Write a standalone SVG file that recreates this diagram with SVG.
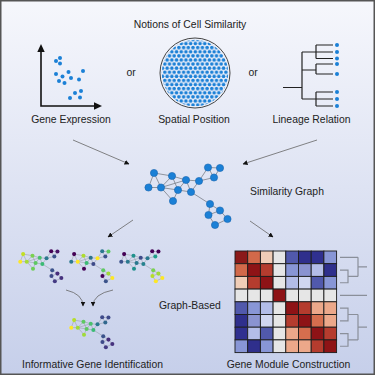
<svg xmlns="http://www.w3.org/2000/svg" xmlns:xlink="http://www.w3.org/1999/xlink" width="375" height="375" viewBox="0 0 375 375">
<style>
text{font-family:"Liberation Sans",Arial,sans-serif;font-size:10.4px;fill:#222}
.mid{text-anchor:middle}
.dot{fill:#1b80d6}
.bn{fill:#1b80d6;stroke:#1765b0;stroke-width:0.6}
.be{fill:none;stroke:#7a7f88;stroke-width:0.8}
.se{fill:none;stroke:#8c909a;stroke-width:0.9}
.tree{fill:none;stroke:#222;stroke-width:1.2}
.conn{fill:none;stroke:#666;stroke-width:0.8}
.dend{fill:none;stroke:#8a8f9a;stroke-width:1.2}
.hm rect{stroke:#1c1c1c;stroke-width:0.9}
</style>
<defs>
<linearGradient id="bg" x1="0" y1="0" x2="0" y2="1">
<stop offset="0" stop-color="#f6f7fc"/>
<stop offset="1" stop-color="#c6cfea"/>
</linearGradient>
<pattern id="cells" patternUnits="userSpaceOnUse" width="4.7" height="8.2" x="0.3" y="0.5">
<circle cx="2.35" cy="2.05" r="1.8" fill="#1b80d6"/>
<circle cx="0" cy="6.15" r="1.8" fill="#1b80d6"/>
<circle cx="4.7" cy="6.15" r="1.8" fill="#1b80d6"/>
</pattern>
<marker id="ah" viewBox="0 0 10 10" refX="9" refY="5" markerWidth="5" markerHeight="5" markerUnits="userSpaceOnUse" orient="auto">
<path d="M0,0 L10,5 L0,10 Z" fill="#111"/>
</marker>
<path id="gedges" d="M154,173 L148.5,187.5 M154,173 L161,187.5 M154,173 L172,176 M148.5,187.5 L161,187.5 M161,187.5 L172,176 M161,187.5 L186,180 M161,187.5 L178,190 M161,187.5 L173,201 M172,176 L186,180 M172,176 L178,190 M178,190 L186,180 M178,190 L191,192 M178,190 L173,201 M186,180 L191,192 M186,180 L199,181 M191,192 L199,181 M199,181 L208,167.5 M199,181 L214,177.5 M208,167.5 L220,168 M208,167.5 L214,177.5 M220,168 L214,177.5 M191,192 L210,204 M210,204 L220,210.5 M210,204 L208.5,215 M208.5,215 L220,210.5 M220,210.5 L227.5,219 M208.5,215 L215,225 M215,225 L227.5,219"/>
</defs>

<rect x="0.75" y="0.75" width="373.5" height="373.5" fill="url(#bg)" stroke="#555" stroke-width="1.5"/>

<g id="title"><text class="mid" x="190" y="27.5">Notions of Cell Similarity</text></g>

<g id="gene-expression">
<path d="M41,51 V106 H96" fill="none" stroke="#111" stroke-width="1.6"/>
<polygon points="41,44 37.3,52 44.7,52" fill="#111"/>
<polygon points="102,106 94,102.3 94,109.7" fill="#111"/>
<circle class="dot" cx="56" cy="61" r="2"/>
<circle class="dot" cx="60" cy="58" r="2"/>
<circle class="dot" cx="60" cy="63.5" r="2"/>
<circle class="dot" cx="56" cy="74" r="2"/>
<circle class="dot" cx="62.5" cy="76.5" r="2"/>
<circle class="dot" cx="68.5" cy="72" r="2"/>
<circle class="dot" cx="71" cy="78" r="2"/>
<circle class="dot" cx="83" cy="71" r="2"/>
<circle class="dot" cx="59" cy="81" r="2"/>
<circle class="dot" cx="64.5" cy="83" r="2"/>
<circle class="dot" cx="79" cy="79.5" r="2"/>
<circle class="dot" cx="75" cy="93" r="2"/>
<circle class="dot" cx="81" cy="91" r="2"/>
<circle class="dot" cx="70" cy="98" r="2"/>
<circle class="dot" cx="80" cy="97.5" r="2"/>
<text class="mid" x="71" y="122.5">Gene Expression</text>
</g>

<g id="or1"><text class="mid" x="131" y="75.5">or</text></g>

<g id="spatial-position">
<circle cx="195" cy="73" r="35" fill="#eef1fa" stroke="#444" stroke-width="1"/>
<circle cx="195" cy="73" r="33.3" fill="url(#cells)"/>
<text class="mid" x="194" y="122.5">Spatial Position</text>
</g>

<g id="or2"><text class="mid" x="253" y="75.5">or</text></g>

<g id="lineage-relation">
<path class="tree" d="M283,87.5 H302 M302,52 V99 M302,52 H316 M302,70 H316 M302,99 H316 M316,45 V58.5 M316,45 H333 M316,52 H333 M316,58.5 H333 M316,64 V74 M316,64 H333 M316,74 H333 M316,92 V106 M316,92 H333 M316,99 H333 M316,106 H333"/>
<circle class="dot" cx="337" cy="45" r="2"/>
<circle class="dot" cx="337" cy="52" r="2"/>
<circle class="dot" cx="337" cy="58.5" r="2"/>
<circle class="dot" cx="337" cy="64" r="2"/>
<circle class="dot" cx="337" cy="74" r="2"/>
<circle class="dot" cx="337" cy="92" r="2"/>
<circle class="dot" cx="337" cy="99" r="2"/>
<circle class="dot" cx="337" cy="106" r="2"/>
<text class="mid" x="311.5" y="122.5">Lineage Relation</text>
</g>

<g id="connectors">
<line class="conn" x1="73" y1="140" x2="129" y2="164" marker-end="url(#ah)"/>
<line class="conn" x1="317" y1="140" x2="243" y2="164" marker-end="url(#ah)"/>
<line class="conn" x1="133" y1="220" x2="108" y2="237" marker-end="url(#ah)"/>
<line class="conn" x1="250" y1="221" x2="273" y2="237" marker-end="url(#ah)"/>
<path class="conn" d="M66,290 Q83,294 83,306" marker-end="url(#ah)"/>
<path class="conn" d="M113,290 Q93,294 93,306" marker-end="url(#ah)"/>
</g>

<g id="similarity-graph">
<use xlink:href="#gedges" class="be"/>
<circle class="bn" cx="154" cy="173" r="3.6"/>
<circle class="bn" cx="148.5" cy="187.5" r="3.6"/>
<circle class="bn" cx="161" cy="187.5" r="3.6"/>
<circle class="bn" cx="172" cy="176" r="3.6"/>
<circle class="bn" cx="186" cy="180" r="3.6"/>
<circle class="bn" cx="178" cy="190" r="3.6"/>
<circle class="bn" cx="191" cy="192" r="3.6"/>
<circle class="bn" cx="173" cy="201" r="3.6"/>
<circle class="bn" cx="199" cy="181" r="3.6"/>
<circle class="bn" cx="208" cy="167.5" r="3.6"/>
<circle class="bn" cx="220" cy="168" r="3.6"/>
<circle class="bn" cx="214" cy="177.5" r="3.6"/>
<circle class="bn" cx="210" cy="204" r="3.6"/>
<circle class="bn" cx="220" cy="210.5" r="3.6"/>
<circle class="bn" cx="208.5" cy="215" r="3.6"/>
<circle class="bn" cx="227.5" cy="219" r="3.6"/>
<circle class="bn" cx="215" cy="225" r="3.6"/>
<text x="250" y="194.5">Similarity Graph</text>
</g>

<g id="gene-graph-1" transform="translate(-56.96,164.16) scale(0.52)">
<use xlink:href="#gedges" class="se"/>
<circle cx="154" cy="173" r="3.9" fill="#c2df23"/>
<circle cx="148.5" cy="187.5" r="3.9" fill="#fde725"/>
<circle cx="161" cy="187.5" r="3.9" fill="#a5db36"/>
<circle cx="172" cy="176" r="3.9" fill="#7ad151"/>
<circle cx="186" cy="180" r="3.9" fill="#4ac16d"/>
<circle cx="178" cy="190" r="3.9" fill="#5ec962"/>
<circle cx="191" cy="192" r="3.9" fill="#3bbb75"/>
<circle cx="173" cy="201" r="3.9" fill="#6ece58"/>
<circle cx="199" cy="181" r="3.9" fill="#2a788e"/>
<circle cx="208" cy="167.5" r="3.9" fill="#440154"/>
<circle cx="220" cy="168" r="3.9" fill="#481467"/>
<circle cx="214" cy="177.5" r="3.9" fill="#3b528b"/>
<circle cx="210" cy="204" r="3.9" fill="#3b528b"/>
<circle cx="220" cy="210.5" r="3.9" fill="#472d7b"/>
<circle cx="208.5" cy="215" r="3.9" fill="#3e4a89"/>
<circle cx="227.5" cy="219" r="3.9" fill="#46327e"/>
<circle cx="215" cy="225" r="3.9" fill="#443a83"/>
</g>

<g id="gene-graph-2" transform="translate(-5.96,164.16) scale(0.52)">
<use xlink:href="#gedges" class="se"/>
<circle cx="154" cy="173" r="3.9" fill="#440154"/>
<circle cx="148.5" cy="187.5" r="3.9" fill="#2a788e"/>
<circle cx="161" cy="187.5" r="3.9" fill="#fde725"/>
<circle cx="172" cy="176" r="3.9" fill="#addc30"/>
<circle cx="186" cy="180" r="3.9" fill="#2c728e"/>
<circle cx="178" cy="190" r="3.9" fill="#3bbb75"/>
<circle cx="191" cy="192" r="3.9" fill="#3e4a89"/>
<circle cx="173" cy="201" r="3.9" fill="#440154"/>
<circle cx="199" cy="181" r="3.9" fill="#fde725"/>
<circle cx="208" cy="167.5" r="3.9" fill="#2a788e"/>
<circle cx="220" cy="168" r="3.9" fill="#5ec962"/>
<circle cx="214" cy="177.5" r="3.9" fill="#3b528b"/>
<circle cx="210" cy="204" r="3.9" fill="#5ec962"/>
<circle cx="220" cy="210.5" r="3.9" fill="#a0da39"/>
<circle cx="208.5" cy="215" r="3.9" fill="#440154"/>
<circle cx="227.5" cy="219" r="3.9" fill="#fde725"/>
<circle cx="215" cy="225" r="3.9" fill="#3b528b"/>
</g>

<g id="gene-graph-3" transform="translate(44.04,164.16) scale(0.52)">
<use xlink:href="#gedges" class="se"/>
<circle cx="154" cy="173" r="3.9" fill="#440154"/>
<circle cx="148.5" cy="187.5" r="3.9" fill="#3b528b"/>
<circle cx="161" cy="187.5" r="3.9" fill="#2a788e"/>
<circle cx="172" cy="176" r="3.9" fill="#21918c"/>
<circle cx="186" cy="180" r="3.9" fill="#3e4a89"/>
<circle cx="178" cy="190" r="3.9" fill="#2a788e"/>
<circle cx="191" cy="192" r="3.9" fill="#26828e"/>
<circle cx="173" cy="201" r="3.9" fill="#21918c"/>
<circle cx="199" cy="181" r="3.9" fill="#2a788e"/>
<circle cx="208" cy="167.5" r="3.9" fill="#440154"/>
<circle cx="220" cy="168" r="3.9" fill="#440154"/>
<circle cx="214" cy="177.5" r="3.9" fill="#1f9e89"/>
<circle cx="210" cy="204" r="3.9" fill="#7ad151"/>
<circle cx="220" cy="210.5" r="3.9" fill="#a0da39"/>
<circle cx="208.5" cy="215" r="3.9" fill="#b5de2b"/>
<circle cx="227.5" cy="219" r="3.9" fill="#fde725"/>
<circle cx="215" cy="225" r="3.9" fill="#fde725"/>
</g>

<g id="gene-graph-result" transform="translate(-5.96,230.16) scale(0.52)">
<use xlink:href="#gedges" class="se"/>
<circle cx="154" cy="173" r="3.9" fill="#b5de2b"/>
<circle cx="148.5" cy="187.5" r="3.9" fill="#fde725"/>
<circle cx="161" cy="187.5" r="3.9" fill="#a0da39"/>
<circle cx="172" cy="176" r="3.9" fill="#5ec962"/>
<circle cx="186" cy="180" r="3.9" fill="#4ac16d"/>
<circle cx="178" cy="190" r="3.9" fill="#5ec962"/>
<circle cx="191" cy="192" r="3.9" fill="#3bbb75"/>
<circle cx="173" cy="201" r="3.9" fill="#a0da39"/>
<circle cx="199" cy="181" r="3.9" fill="#2a788e"/>
<circle cx="208" cy="167.5" r="3.9" fill="#3e4a89"/>
<circle cx="220" cy="168" r="3.9" fill="#3e4a89"/>
<circle cx="214" cy="177.5" r="3.9" fill="#31688e"/>
<circle cx="210" cy="204" r="3.9" fill="#3b528b"/>
<circle cx="220" cy="210.5" r="3.9" fill="#472d7b"/>
<circle cx="208.5" cy="215" r="3.9" fill="#3e4a89"/>
<circle cx="227.5" cy="219" r="3.9" fill="#46327e"/>
<circle cx="215" cy="225" r="3.9" fill="#443a83"/>
</g>

<g id="graph-based"><text x="159" y="309">Graph-Based</text></g>
<g id="label-informative"><text class="mid" x="92.5" y="367.5">Informative Gene Identification</text></g>

<g id="heatmap" class="hm">
<rect x="235" y="251" width="12.7" height="12.7" fill="#8b1a1a"/>
<rect x="247.7" y="251" width="12.7" height="12.7" fill="#d2694a"/>
<rect x="260.4" y="251" width="12.7" height="12.7" fill="#f0cdb7"/>
<rect x="273.1" y="251" width="12.7" height="12.7" fill="#e6e6e6"/>
<rect x="285.8" y="251" width="12.7" height="12.7" fill="#5159ac"/>
<rect x="298.5" y="251" width="12.7" height="12.7" fill="#2f2f8c"/>
<rect x="311.2" y="251" width="12.7" height="12.7" fill="#30308f"/>
<rect x="323.9" y="251" width="12.7" height="12.7" fill="#8896d6"/>

<rect x="235" y="263.7" width="12.7" height="12.7" fill="#d2694a"/>
<rect x="247.7" y="263.7" width="12.7" height="12.7" fill="#8e1316"/>
<rect x="260.4" y="263.7" width="12.7" height="12.7" fill="#b53c2e"/>
<rect x="273.1" y="263.7" width="12.7" height="12.7" fill="#e6e6e6"/>
<rect x="285.8" y="263.7" width="12.7" height="12.7" fill="#8896d6"/>
<rect x="298.5" y="263.7" width="12.7" height="12.7" fill="#8a93d0"/>
<rect x="311.2" y="263.7" width="12.7" height="12.7" fill="#b4bde8"/>
<rect x="323.9" y="263.7" width="12.7" height="12.7" fill="#2f2f8c"/>

<rect x="235" y="276.4" width="12.7" height="12.7" fill="#f0cdb7"/>
<rect x="247.7" y="276.4" width="12.7" height="12.7" fill="#b53c2e"/>
<rect x="260.4" y="276.4" width="12.7" height="12.7" fill="#8e1316"/>
<rect x="273.1" y="276.4" width="12.7" height="12.7" fill="#e6e6e6"/>
<rect x="285.8" y="276.4" width="12.7" height="12.7" fill="#b3bde8"/>
<rect x="298.5" y="276.4" width="12.7" height="12.7" fill="#d0d6f0"/>
<rect x="311.2" y="276.4" width="12.7" height="12.7" fill="#5159ac"/>
<rect x="323.9" y="276.4" width="12.7" height="12.7" fill="#8896d6"/>

<rect x="235" y="289.1" width="12.7" height="12.7" fill="#e6e6e6"/>
<rect x="247.7" y="289.1" width="12.7" height="12.7" fill="#e6e6e6"/>
<rect x="260.4" y="289.1" width="12.7" height="12.7" fill="#e6e6e6"/>
<rect x="273.1" y="289.1" width="12.7" height="12.7" fill="#8e1316"/>
<rect x="285.8" y="289.1" width="12.7" height="12.7" fill="#e6e6e6"/>
<rect x="298.5" y="289.1" width="12.7" height="12.7" fill="#e6e6e6"/>
<rect x="311.2" y="289.1" width="12.7" height="12.7" fill="#e6e6e6"/>
<rect x="323.9" y="289.1" width="12.7" height="12.7" fill="#e6e6e6"/>

<rect x="235" y="301.8" width="12.7" height="12.7" fill="#5159ac"/>
<rect x="247.7" y="301.8" width="12.7" height="12.7" fill="#8896d6"/>
<rect x="260.4" y="301.8" width="12.7" height="12.7" fill="#b3bde8"/>
<rect x="273.1" y="301.8" width="12.7" height="12.7" fill="#e6e6e6"/>
<rect x="285.8" y="301.8" width="12.7" height="12.7" fill="#8e1316"/>
<rect x="298.5" y="301.8" width="12.7" height="12.7" fill="#b53c2e"/>
<rect x="311.2" y="301.8" width="12.7" height="12.7" fill="#eca88a"/>
<rect x="323.9" y="301.8" width="12.7" height="12.7" fill="#eca88a"/>

<rect x="235" y="314.5" width="12.7" height="12.7" fill="#2f2f8c"/>
<rect x="247.7" y="314.5" width="12.7" height="12.7" fill="#8a93d0"/>
<rect x="260.4" y="314.5" width="12.7" height="12.7" fill="#d0d6f0"/>
<rect x="273.1" y="314.5" width="12.7" height="12.7" fill="#e6e6e6"/>
<rect x="285.8" y="314.5" width="12.7" height="12.7" fill="#b53c2e"/>
<rect x="298.5" y="314.5" width="12.7" height="12.7" fill="#8e1316"/>
<rect x="311.2" y="314.5" width="12.7" height="12.7" fill="#d56e4e"/>
<rect x="323.9" y="314.5" width="12.7" height="12.7" fill="#eca88a"/>

<rect x="235" y="327.2" width="12.7" height="12.7" fill="#30308f"/>
<rect x="247.7" y="327.2" width="12.7" height="12.7" fill="#b4bde8"/>
<rect x="260.4" y="327.2" width="12.7" height="12.7" fill="#5159ac"/>
<rect x="273.1" y="327.2" width="12.7" height="12.7" fill="#e6e6e6"/>
<rect x="285.8" y="327.2" width="12.7" height="12.7" fill="#eca88a"/>
<rect x="298.5" y="327.2" width="12.7" height="12.7" fill="#d56e4e"/>
<rect x="311.2" y="327.2" width="12.7" height="12.7" fill="#8e1316"/>
<rect x="323.9" y="327.2" width="12.7" height="12.7" fill="#b53c2e"/>

<rect x="235" y="339.9" width="12.7" height="12.7" fill="#8896d6"/>
<rect x="247.7" y="339.9" width="12.7" height="12.7" fill="#2f2f8c"/>
<rect x="260.4" y="339.9" width="12.7" height="12.7" fill="#8896d6"/>
<rect x="273.1" y="339.9" width="12.7" height="12.7" fill="#e6e6e6"/>
<rect x="285.8" y="339.9" width="12.7" height="12.7" fill="#eca88a"/>
<rect x="298.5" y="339.9" width="12.7" height="12.7" fill="#eca88a"/>
<rect x="311.2" y="339.9" width="12.7" height="12.7" fill="#b53c2e"/>
<rect x="323.9" y="339.9" width="12.7" height="12.7" fill="#8e1316"/>
</g>

<g id="dendrogram">
<path class="dend" d="M340,257.35 H358 M340,270.05 H348 V282.75 H340 M348,276.4 H358 M358,257.35 V276.4 M358,266.9 H367 M340,295.45 H367 M340,308.15 H348 V320.85 H340 M348,314.5 H358 M340,333.55 H348 V346.25 H340 M348,339.9 H358 M358,314.5 V339.9 M358,327.2 H367"/>
</g>

<g id="label-module"><text class="mid" x="288.5" y="367.5">Gene Module Construction</text></g>
</svg>
